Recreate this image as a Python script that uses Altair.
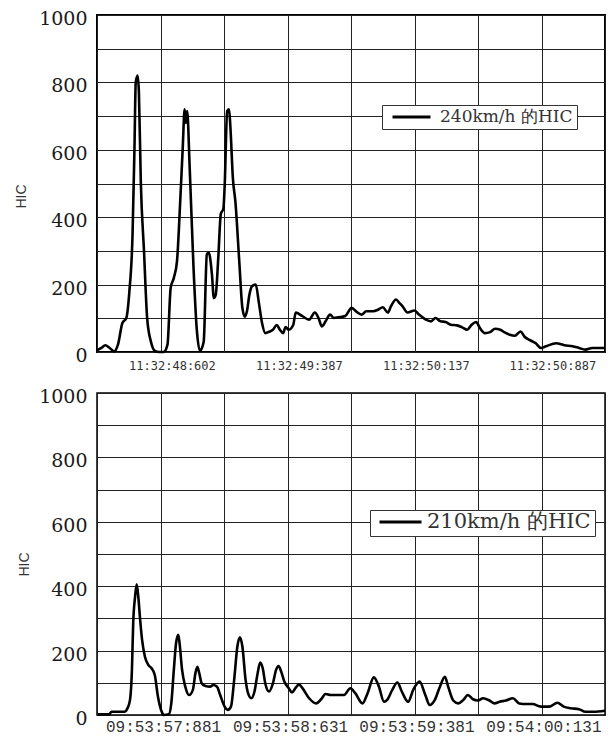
import altair as alt
import pandas as pd

# ---------------- data ----------------
# x is measured in grid divisions (0..8) of each panel
top_x = [0.00, 0.07, 0.13, 0.20, 0.27, 0.33, 0.40, 0.46, 0.51, 0.56,
         0.59, 0.61, 0.64, 0.66, 0.69, 0.74, 0.79, 0.85, 0.92, 0.98,
         1.05, 1.11, 1.16, 1.21, 1.26, 1.31, 1.35, 1.38, 1.40, 1.42,
         1.46, 1.52, 1.57, 1.62, 1.68, 1.73, 1.76, 1.81, 1.84, 1.87,
         1.91, 1.95, 1.99, 2.01, 2.05, 2.08, 2.10, 2.14, 2.18, 2.24,
         2.29, 2.33, 2.36, 2.40, 2.44, 2.50, 2.55, 2.60, 2.65, 2.71,
         2.77, 2.83, 2.88, 2.93, 2.97, 3.02, 3.09, 3.13, 3.23, 3.34,
         3.43, 3.49, 3.54, 3.60, 3.67, 3.73, 3.80, 3.91, 4.01, 4.09,
         4.17, 4.24, 4.35, 4.43, 4.50, 4.58, 4.63, 4.71, 4.76, 4.81,
         4.89, 5.00, 5.07, 5.18, 5.26, 5.33, 5.41, 5.49, 5.57, 5.67,
         5.75, 5.83, 5.90, 5.97, 6.03, 6.11, 6.19, 6.27, 6.35, 6.42,
         6.50, 6.58, 6.67, 6.73, 6.81, 6.91, 6.99, 7.07, 7.23, 7.36,
         7.49, 7.59, 7.69, 7.80, 8.00]
top_hic = [5, 12, 20, 12, 2, 22, 86, 100, 180, 350,
           605, 800, 820, 770, 505, 300, 100, 30, 2, 0,
           0, 22, 190, 220, 270, 445, 605, 720, 680, 715,
           545, 250, 70, 4, 30, 290, 295, 230, 160, 170,
           280, 410, 425, 490, 715, 720, 670, 515, 445, 270,
           130, 105, 120, 170, 195, 200, 145, 85, 56, 60,
           66, 80, 66, 56, 74, 66, 80, 117, 107, 96,
           117, 100, 76, 91, 111, 101, 103, 107, 131, 119,
           111, 121, 121, 126, 133, 117, 136, 156, 146, 136,
           117, 123, 111, 96, 91, 101, 91, 89, 81, 79,
           73, 66, 81, 89, 71, 56, 59, 69, 66, 58,
           51, 48, 61, 46, 36, 26, 12, 17, 26, 20,
           17, 12, 7, 12, 12]

bot_x = [0.01, 0.19, 0.23, 0.30, 0.43, 0.48, 0.52, 0.55, 0.57, 0.60,
         0.625, 0.65, 0.68, 0.71, 0.755, 0.81, 0.86, 0.91, 0.96, 1.02,
         1.05, 1.13, 1.17, 1.21, 1.245, 1.28, 1.30, 1.34, 1.39, 1.45,
         1.51, 1.55, 1.58, 1.61, 1.65, 1.71, 1.78, 1.83, 1.89, 1.94,
         2.01, 2.06, 2.11, 2.16, 2.21, 2.25, 2.29, 2.34, 2.38, 2.43,
         2.48, 2.53, 2.57, 2.61, 2.65, 2.71, 2.77, 2.82, 2.86, 2.90,
         2.95, 3.02, 3.07, 3.13, 3.18, 3.23, 3.34, 3.45, 3.53, 3.60,
         3.68, 3.79, 3.89, 3.99, 4.07, 4.18, 4.26, 4.36, 4.44, 4.52,
         4.57, 4.65, 4.73, 4.80, 4.90, 4.98, 5.08, 5.17, 5.24, 5.32,
         5.40, 5.48, 5.53, 5.61, 5.69, 5.77, 5.84, 5.92, 6.00, 6.08,
         6.18, 6.26, 6.34, 6.44, 6.55, 6.65, 6.76, 6.86, 6.99, 7.12,
         7.25, 7.35, 7.46, 7.59, 7.69, 7.82, 8.00]
bot_hic = [2, 2, 10, 10, 10, 21, 47, 140, 285, 368,
           406, 368, 295, 233, 181, 155, 145, 124, 57, 10,
           0, 2, 36, 140, 223, 249, 223, 140, 88, 62,
           78, 130, 150, 130, 98, 90, 88, 93, 88, 62,
           26, 16, 26, 109, 212, 241, 212, 109, 67, 52,
           73, 130, 163, 145, 98, 73, 98, 140, 152, 135,
           104, 83, 70, 85, 95, 85, 52, 36, 49, 65,
           62, 62, 62, 83, 67, 36, 67, 117, 88, 41,
           47, 78, 101, 73, 41, 78, 104, 62, 31, 47,
           88, 119, 88, 45, 36, 47, 62, 49, 45, 52,
           45, 36, 41, 45, 52, 36, 34, 34, 26, 26,
           38, 26, 21, 18, 10, 10, 13]

grid_x = [0, 1, 2, 3, 4, 5, 6, 7, 8]
y_ticks = [0, 100, 200, 300, 400, 500, 600, 700, 800, 900, 1000]

top_tick_pos = [1.18, 3.18, 5.18, 7.17]
top_tick_labels = ["11:32:48:602", "11:32:49:387", "11:32:50:137", "11:32:50:887"]
bot_tick_pos = [1.04, 3.04, 5.03, 7.03]
bot_tick_labels = ["09:53:57:881", "09:53:58:631", "09:53:59:381", "09:54:00:131"]

series_top = "240km/h 的HIC"
series_bot = "210km/h 的HIC"


def label_expr(pos, labels):
    parts = " : ".join(f"datum.value == {p} ? '{l}'" for p, l in zip(pos, labels))
    return parts + " : ''"


def panel(xs, ys, name, tick_pos, tick_labels, w, h, xfont, xsize, xpad,
          title_x, title_y, leg_x, leg_y, sym_len, leg_font, leg_clip,
          leg_sym_off, leg_lab_off, frame_w):
    df = pd.DataFrame({"t": xs, "hic": ys, "series": name})
    return alt.Chart(df).mark_line(
        interpolate="monotone", strokeWidth=2.6, strokeJoin="round"
    ).encode(
        x=alt.X("t:Q",
                scale=alt.Scale(domain=[0, 8], nice=False, zero=False),
                axis=alt.Axis(values=grid_x + tick_pos,
                              labelExpr=label_expr(tick_pos, tick_labels),
                              title=None, ticks=False, domain=False,
                              grid=True, gridColor="#222", gridWidth=1,
                              gridOpacity={"condition": {"test": "datum.value % 1 != 0", "value": 0}, "value": 1},
                              labelFont=xfont, labelFontSize=xsize,
                              labelColor="#333", labelPadding=xpad,
                              labelFlush=False, labelOverlap=False)),
        y=alt.Y("hic:Q",
                scale=alt.Scale(domain=[0, 1000], nice=False),
                axis=alt.Axis(values=y_ticks, format="d",
                              labelExpr="datum.value % 200 == 0 ? datum.label : ''",
                              ticks=False, domain=False,
                              grid=True, gridColor="#222", gridWidth=1,
                              labelFont="DejaVu Serif", labelFontSize=19,
                              labelColor="#1a1a1a", labelPadding=10,
                              labelOffset=3.5, labelOverlap=False,
                              title="HIC", titleFont="Liberation Sans",
                              titleFontSize=14, titleFontWeight="normal",
                              titleColor="#333", titleX=title_x, titleY=title_y,
                              titleAlign="center", titleBaseline="middle",
                              titleAngle=270)),
        color=alt.Color("series:N",
                        scale=alt.Scale(range=["#000000"]),
                        legend=alt.Legend(orient="none", legendX=leg_x, legendY=leg_y,
                                          title=None, symbolType="stroke",
                                          symbolSize=sym_len * sym_len,
                                          symbolStrokeWidth=3,
                                          clipHeight=leg_clip, padding=4,
                                          symbolOffset=leg_sym_off,
                                          labelOffset=leg_lab_off,
                                          labelFont="DejaVu Serif",
                                          labelFontSize=leg_font,
                                          labelColor="#333", labelLimit=0,
                                          strokeColor="#333", fillColor="#ffffff")),
    ).properties(
        width=w, height=h,
        view=alt.ViewBackground(stroke="#000", strokeWidth=frame_w),
    )


top = panel(top_x, top_hic, series_top, top_tick_pos, top_tick_labels,
            508, 337, "DejaVu Sans Mono", 12, 8,
            -76, 181, 285, 90, 38, 17, 16, 5, 8, 2)
bottom = panel(bot_x, bot_hic, series_bot, bot_tick_pos, bot_tick_labels,
               508, 322, "Liberation Mono", 16, 3,
               -73, 171, 273, 117, 42, 21, 16, 4, 4, 1.5)

chart = alt.vconcat(top, bottom, spacing=14).resolve_scale(
    color="independent"
).resolve_legend(color="independent").properties(
    padding={"left": 5, "top": 0, "right": 0, "bottom": 0}
)

chart.save("out.html", embed_options={"renderer": "svg", "actions": False})
